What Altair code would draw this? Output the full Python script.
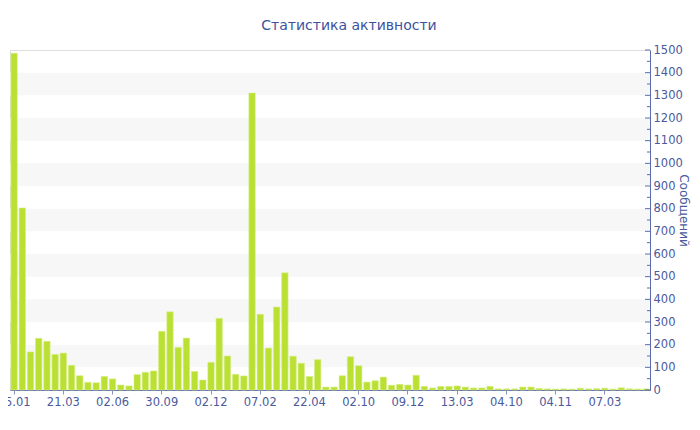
import json
import altair as alt
import pandas as pd

chart_title = "Статистика активности"
y_title = "Сообщений"
tick_labels = ["25.01", "21.03", "02.06", "30.09", "02.12", "07.02", "22.04",
               "02.10", "09.12", "13.03", "04.10", "04.11", "07.03"]
label_every = 6
values = [1486, 803, 168, 228, 215, 157, 163, 109, 63, 34,
          32, 60, 49, 22, 18, 68, 78, 84, 259, 345,
          188, 229, 82, 44, 122, 316, 150, 69, 62, 1310,
          334, 185, 366, 517, 149, 118, 60, 134, 13, 13,
          63, 147, 107, 35, 41, 57, 21, 25, 22, 65,
          16, 9, 16, 16, 18, 13, 9, 9, 16, 5,
          5, 5, 13, 13, 7, 5, 4, 5, 4, 8,
          5, 6, 8, 4, 10, 5, 4, 5]
y_max = 1500
band_starts = [100, 300, 500, 700, 900, 1100, 1300]
band_size = 100

W, H = 640, 340
BLUE = "#4a5a9c"
AXIS = "#5a6cae"
BAR = "#bbe034"

bars_df = pd.DataFrame({"idx": list(range(len(values))), "value": values})
band_df = pd.DataFrame({"y0": band_starts, "y1": [b + band_size for b in band_starts]})
major_df = pd.DataFrame({"v": list(range(0, y_max + 1, 100))})
minor_df = pd.DataFrame({"v": list(range(50, y_max, 100))})

yscale = alt.Scale(domain=[0, y_max], nice=False, zero=True)
yaxis = alt.Axis(orient="right", values=list(range(0, y_max + 1, 100)),
                 format="d",
                 ticks=False, tickSize=0, labelPadding=3, grid=False,
                 domainColor=AXIS, labelColor=BLUE, labelFontSize=11.5,
                 title=y_title, titleAngle=90, titleX=33, titleY=160,
                 titleAlign="center", titleBaseline="middle",
                 titleFontWeight="normal", titleFontSize=12,
                 titleColor=BLUE)

label_map = {str(i * label_every): lab for i, lab in enumerate(tick_labels)}
label_expr = f"{json.dumps(label_map)}[''+datum.value]"

bands = alt.Chart(band_df).mark_rect(color="#f7f7f7").encode(
    y=alt.Y("y0:Q", scale=yscale, axis=yaxis),
    y2="y1:Q",
    x=alt.value(0),
    x2=alt.value(W),
)

bars = alt.Chart(bars_df).mark_bar(color=BAR, stroke="#d6ef86", strokeWidth=0.6).encode(
    x=alt.X("idx:O", sort=None,
            scale=alt.Scale(paddingInner=0.22, paddingOuter=0.11),
            axis=alt.Axis(values=list(range(0, len(values), label_every)),
                          labelExpr=label_expr, labelAngle=0, title=None,
                          tickSize=4, tickColor="#8a93b8", domainColor=AXIS,
                          labelColor=BLUE, labelFontSize=11.5, labelPadding=2,
                          grid=False)),
    y=alt.Y("value:Q", scale=yscale, axis=yaxis),
)

major_ticks = alt.Chart(major_df).mark_rule(color=AXIS, strokeWidth=1).encode(
    y=alt.Y("v:Q", scale=yscale, axis=yaxis),
    x=alt.value(W - 5),
    x2=alt.value(W),
)
minor_ticks = alt.Chart(minor_df).mark_rule(color=AXIS, strokeWidth=1).encode(
    y=alt.Y("v:Q", scale=yscale, axis=yaxis),
    x=alt.value(W - 3),
    x2=alt.value(W),
)

chart = alt.layer(bands, bars, major_ticks, minor_ticks).properties(
    width=W, height=H,
    autosize=alt.AutoSizeParams(type="none"),
    padding={"left": 2, "top": 42, "right": 42, "bottom": 28},
    title=alt.TitleParams(chart_title, fontSize=14, fontWeight="normal",
                          color="#3c52a0", anchor="middle", frame="group",
                          dx=19, offset=11),
).configure_view(stroke=None).configure(font="DejaVu Sans", background="white")

chart.save("out.html", embed_options={"renderer": "svg", "actions": False})
